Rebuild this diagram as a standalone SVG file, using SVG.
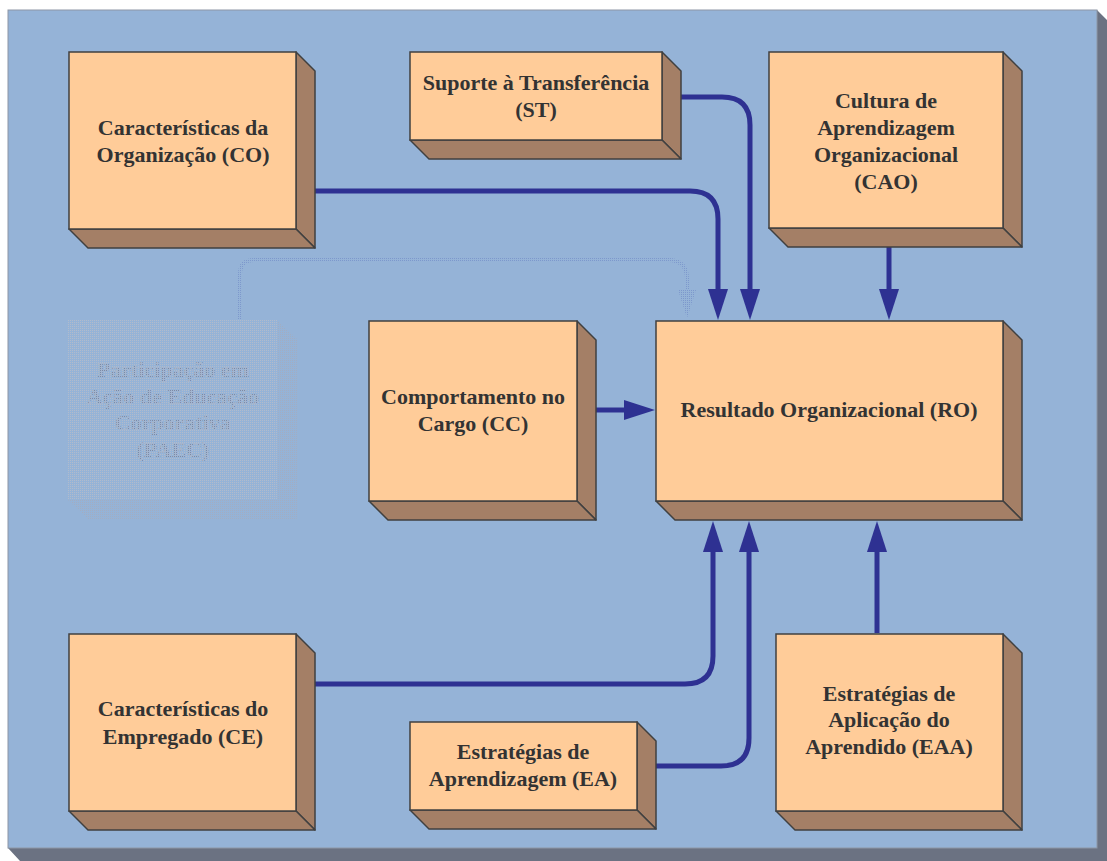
<svg xmlns="http://www.w3.org/2000/svg" width="1107" height="861" viewBox="0 0 1107 861">
  <defs>
    <style>
      .front { fill: #ffcc99; stroke: #404040; stroke-width: 1.5; }
      .side { fill: #a47f66; stroke: #404040; stroke-width: 1.5; stroke-linejoin: round; }
      .label { font-family: "Liberation Serif", "Times New Roman", serif; font-weight: bold; font-size: 22px; fill: #333333; text-anchor: middle; }
      .faint-label { font-family: "Liberation Serif", "Times New Roman", serif; font-weight: bold; font-size: 22px; fill: url(#stipple-text); text-anchor: middle; }
      .link { fill: none; stroke: #2e3192; stroke-width: 5; }
      .faint-link { fill: none; stroke: url(#stipple-line); stroke-width: 4; }
    </style>
    <pattern id="stipple-front" width="2" height="2" patternUnits="userSpaceOnUse">
      <rect width="2" height="2" fill="#95b3d7"/>
      <rect width="1" height="1" fill="#b1bbcc"/>
    </pattern>
    <pattern id="stipple-side" width="2" height="2" patternUnits="userSpaceOnUse">
      <rect width="2" height="2" fill="#95b3d7"/>
      <rect width="1" height="1" fill="#a2adc2"/>
    </pattern>
    <pattern id="stipple-line" width="2" height="2" patternUnits="userSpaceOnUse">
      <rect width="2" height="2" fill="#95b3d7"/>
      <rect width="1" height="1" fill="#7d98cc"/>
    </pattern>
    <pattern id="stipple-text" width="2" height="2" patternUnits="userSpaceOnUse">
      <rect width="2" height="2" fill="#a3b5cf"/>
      <rect width="1" height="1" fill="#7a8aa6"/>
    </pattern>
    <marker id="arrow" markerUnits="userSpaceOnUse" markerWidth="32" markerHeight="21" refX="0" refY="10" orient="auto">
      <path d="M0,0 L31,10 L0,20 Z" fill="#2e3192"/>
    </marker>
    <marker id="faint-arrow" markerUnits="userSpaceOnUse" markerWidth="30" markerHeight="19" refX="0" refY="9" orient="auto">
      <path d="M0,0 L28,9 L0,18 Z" fill="url(#stipple-line)"/>
    </marker>
  </defs>

  <!-- backdrop panel with its extruded shadow -->
  <polygon points="1097,10 1107,20 1107,861 20,861 8,848 1097,848" fill="#6b7282"/>
  <rect x="8" y="10" width="1089" height="838" fill="#95b3d7" stroke="#8d96a5" stroke-width="1"/>

  <!-- connectors -->
  <g id="connectors">
    <path class="faint-link" d="M240,320 V274 Q240,260 254,260 H668 Q687,260 687,279 V290" marker-end="url(#faint-arrow)"/>
    <path class="link" d="M315,191 H690 Q718,191 718,219 V289" marker-end="url(#arrow)"/>
    <path class="link" d="M681,97 H722 Q750,97 750,125 V289" marker-end="url(#arrow)"/>
    <path class="link" d="M889,247 V289" marker-end="url(#arrow)"/>
    <path class="link" d="M596,410 H624" marker-end="url(#arrow)"/>
    <path class="link" d="M315,684 H685 Q713,684 713,656 V552" marker-end="url(#arrow)"/>
    <path class="link" d="M656,766 H721 Q749,766 749,738 V552" marker-end="url(#arrow)"/>
    <path class="link" d="M877,633 V552" marker-end="url(#arrow)"/>
  </g>

  <!-- Características da Organização -->
  <g id="node-co">
    <polygon class="side" points="296,52 315,71 315,248 296,229"/>
    <polygon class="side" points="69,229 296,229 315,248 88,248"/>
    <rect class="front" x="69" y="52" width="227" height="177"/>
    <text class="label" x="183" y="135">Características da</text>
    <text class="label" x="183" y="162">Organização (CO)</text>
  </g>

  <!-- Suporte à Transferência -->
  <g id="node-st">
    <polygon class="side" points="662,52 681,71 681,159 662,140"/>
    <polygon class="side" points="410,140 662,140 681,159 429,159"/>
    <rect class="front" x="410" y="52" width="252" height="88"/>
    <text class="label" x="536" y="90">Suporte à Transferência</text>
    <text class="label" x="536" y="117">(ST)</text>
  </g>

  <!-- Cultura de Aprendizagem Organizacional -->
  <g id="node-cao">
    <polygon class="side" points="1003,52 1022,71 1022,247 1003,228"/>
    <polygon class="side" points="769,228 1003,228 1022,247 788,247"/>
    <rect class="front" x="769" y="52" width="234" height="176"/>
    <text class="label" x="886" y="108">Cultura de</text>
    <text class="label" x="886" y="135">Aprendizagem</text>
    <text class="label" x="886" y="162">Organizacional</text>
    <text class="label" x="886" y="189">(CAO)</text>
  </g>

  <!-- Participação em Ação de Educação Corporativa (faded) -->
  <g id="node-paec">
    <polygon points="277,320 297,339 297,519 277,500" fill="url(#stipple-side)"/>
    <polygon points="68,500 277,500 297,519 88,519" fill="url(#stipple-side)"/>
    <rect x="68" y="320" width="209" height="180" fill="url(#stipple-front)"/>
    <text class="faint-label" x="173" y="377">Participação em</text>
    <text class="faint-label" x="173" y="404">Ação de Educação</text>
    <text class="faint-label" x="173" y="430">Corporativa</text>
    <text class="faint-label" x="173" y="457">(PAEC)</text>
  </g>

  <!-- Comportamento no Cargo -->
  <g id="node-cc">
    <polygon class="side" points="577,321 596,340 596,520 577,501"/>
    <polygon class="side" points="369,501 577,501 596,520 388,520"/>
    <rect class="front" x="369" y="321" width="208" height="180"/>
    <text class="label" x="473" y="404">Comportamento no</text>
    <text class="label" x="473" y="431">Cargo (CC)</text>
  </g>

  <!-- Resultado Organizacional -->
  <g id="node-ro">
    <polygon class="side" points="1003,321 1022,340 1022,520 1003,501"/>
    <polygon class="side" points="656,501 1003,501 1022,520 675,520"/>
    <rect class="front" x="656" y="321" width="347" height="180"/>
    <text class="label" x="829" y="417">Resultado Organizacional (RO)</text>
  </g>

  <!-- Características do Empregado -->
  <g id="node-ce">
    <polygon class="side" points="296,634 315,653 315,830 296,811"/>
    <polygon class="side" points="69,811 296,811 315,830 88,830"/>
    <rect class="front" x="69" y="634" width="227" height="177"/>
    <text class="label" x="183" y="716">Características do</text>
    <text class="label" x="183" y="744">Empregado (CE)</text>
  </g>

  <!-- Estratégias de Aprendizagem -->
  <g id="node-ea">
    <polygon class="side" points="637,722 656,741 656,829 637,810"/>
    <polygon class="side" points="410,810 637,810 656,829 429,829"/>
    <rect class="front" x="410" y="722" width="227" height="88"/>
    <text class="label" x="523" y="759">Estratégias de</text>
    <text class="label" x="523" y="786">Aprendizagem (EA)</text>
  </g>

  <!-- Estratégias de Aplicação do Aprendido -->
  <g id="node-eaa">
    <polygon class="side" points="1003,634 1022,653 1022,830 1003,811"/>
    <polygon class="side" points="776,811 1003,811 1022,830 795,830"/>
    <rect class="front" x="776" y="634" width="227" height="177"/>
    <text class="label" x="889" y="701">Estratégias de</text>
    <text class="label" x="889" y="727">Aplicação do</text>
    <text class="label" x="889" y="754">Aprendido (EAA)</text>
  </g>
</svg>
